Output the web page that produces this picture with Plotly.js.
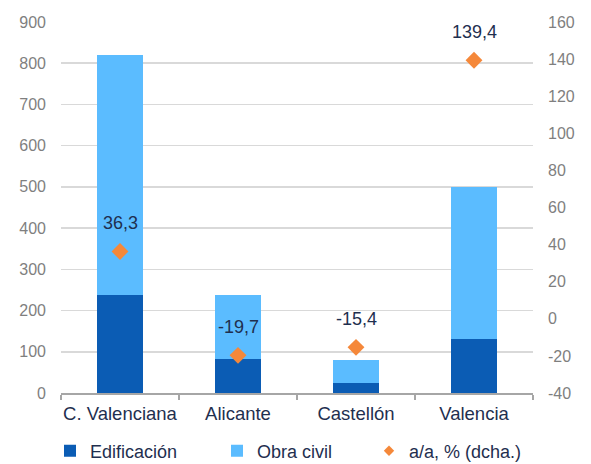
<!DOCTYPE html>
<html>
<head>
<meta charset="utf-8">
<script src="https://cdn.plot.ly/plotly-3.0.1.min.js"></script>
<style>html,body{margin:0;padding:0;background:#fff;}#chart{width:591px;height:464px;}</style>
</head>
<body>
<div id="chart"></div>
<script>
const categories = ["C. Valenciana", "Alicante", "Castellón", "Valencia"];
const edificacion = [238, 82, 24, 131];
const obraCivil = [582, 156, 55, 368];
const aa = [36.3, -19.7, -15.4, 139.4];
const aaLabels = ["36,3", "-19,7", "-15,4", "139,4"];
const leftTicks = [0, 100, 200, 300, 400, 500, 600, 700, 800, 900];
const rightTicks = [-40, -20, 0, 20, 40, 60, 80, 100, 120, 140, 160];
const rightTickLabels = ["-40", "-20", "0", "20", "40", "60", "80", "100", "120", "140", "160"];

const navy = "#1F2F4F";
const grey = "#7F7F7F";
const fontFam = "Liberation Sans, Arial, sans-serif";

const traces = [
  {type: "bar", name: "Edificación", x: categories, y: edificacion, legend: "legend",
   marker: {color: "#0B5CB4"}, hoverinfo: "skip"},
  {type: "bar", name: "Obra civil", x: categories, y: obraCivil, legend: "legend2",
   marker: {color: "#5BBCFF"}, hoverinfo: "skip"},
  {type: "scatter", mode: "markers", name: "a/a, % (dcha.)", x: categories, y: aa, yaxis: "y2",
   marker: {symbol: "diamond", size: 13, color: "#F5883A"}, hoverinfo: "skip", showlegend: false},
  {type: "scatter", mode: "markers", name: "a/a, % (dcha.)", x: [null], y: [null], yaxis: "y2",
   legend: "legend3", marker: {symbol: "diamond", size: 8, color: "#F5883A"}, hoverinfo: "skip"}
];

const annotations = categories.map((c, i) => ({
  x: c, y: aa[i], xref: "x", yref: "y2", text: aaLabels[i], showarrow: false,
  yshift: 28, font: {family: fontFam, size: 18, color: navy}
}));

function leg(xpx) {
  return {orientation: "h", xref: "container", yref: "container", x: xpx / 591, xanchor: "left",
          y: 13 / 464, yanchor: "middle", bgcolor: "rgba(0,0,0,0)",
          font: {family: fontFam, size: 18, color: navy}, itemwidth: 30};
}

const layout = {
  width: 591, height: 464,
  margin: {l: 61, r: 58, t: 22, b: 71},
  paper_bgcolor: "#fff", plot_bgcolor: "#fff",
  barmode: "stack", bargap: 0.61,
  showlegend: true,
  legend: leg(50),
  legend2: leg(217),
  legend3: leg(369),
  xaxis: {type: "category", tickfont: {family: fontFam, size: 18.5, color: navy}, tickangle: 0,
          showline: true, linecolor: "#A6A6A6", linewidth: 2,
          ticks: "outside", tickson: "boundaries", ticklen: 5, tickcolor: "#A6A6A6", tickwidth: 2,
          ticklabelstandoff: 3, showgrid: false, fixedrange: true},
  yaxis: {range: [0, 900], tickvals: leftTicks, tickfont: {family: fontFam, size: 16, color: grey},
          showgrid: true, gridcolor: "#D9D9D9", gridwidth: 1.5, zeroline: false, showline: false,
          ticklabelstandoff: 14, fixedrange: true},
  yaxis2: {range: [-40, 160], tickvals: rightTicks, ticktext: rightTickLabels, overlaying: "y", side: "right",
           tickfont: {family: fontFam, size: 16, color: grey}, showgrid: false, zeroline: false,
           showline: false, ticklabelstandoff: 14, fixedrange: true},
  annotations: annotations
};

Plotly.newPlot("chart", traces, layout, {displayModeBar: false, staticPlot: true});
</script>
</body>
</html>
